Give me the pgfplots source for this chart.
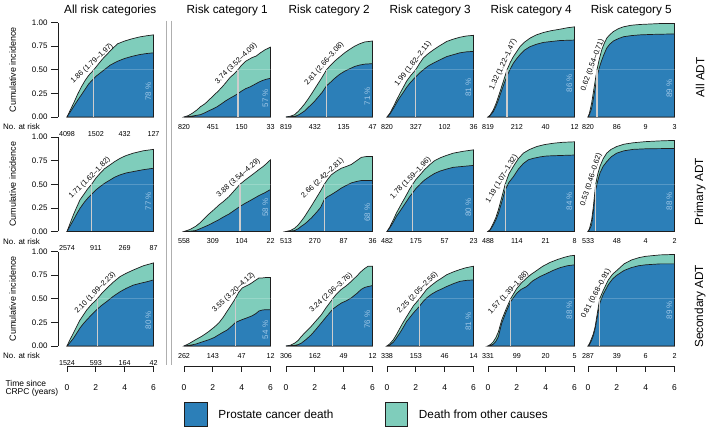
\documentclass[border=0pt]{standalone}
\usepackage{fontspec}
\setmainfont{Liberation Sans}
\usepackage{pgfplots}
\pgfplotsset{compat=1.18}
\definecolor{pcblue}{HTML}{2C7FB8}
\definecolor{ocgreen}{HTML}{7FCDBB}
\definecolor{pcttext}{RGB}{160,200,232}
\definecolor{medgray}{RGB}{205,205,205}
\definecolor{sepgray}{RGB}{175,175,175}
\definecolor{edge}{RGB}{30,30,30}
\newcommand\fs[1]{\fontsize{#1}{#1}\selectfont}

\pgfplotsset{
  panel/.style={
    scale only axis, width=86.5bp, height=94.4bp,
    xmin=0, xmax=6, ymin=0, ymax=1,
    clip=false, anchor=south west,
    axis x line*=bottom,
    x axis line style={draw=none},
    xtick={0,2,4,6},
    xtick style={draw=none},
    xticklabel style={font=\fs{7.2}, anchor=center, inner sep=0pt},
    xticklabel shift=9.7bp,
    title style={font=\fs{11.8}, anchor=base, at={(0.5,1)}, yshift=2.7bp},
  },
  othercol/.style={hide y axis},
  firstcol/.style={
    axis y line*=left,
    axis y line shift=9bp,
    ytick={0,0.25,0.5,0.75,1},
    yticklabels={0.00,0.25,0.50,0.75,1.00},
    tick align=outside,
    major tick length=7bp,
    ytick style={edge, line width=0.7bp},
    y axis line style={edge, line width=0.7bp},
    yticklabel style={font=\fs{8}},
    extra description/.code={
      \node[font=\fs{8}, anchor=east] at (-0.274,-0.1028) {No. at risk};
      \node[font=\fs{9}, rotate=90] at (-0.628,0.5) {Cumulative incidence};
    },
  },
  rowlabel/.style={
    extra description/.code={
      \node[font=\fs{11.8}, rotate=90] at (1.295,0.42) {#1};
    },
  },
  timeaxis/.style={
    scale only axis, width=86.5bp, height=10bp, anchor=south west,
    xmin=0, xmax=6, ymin=0, ymax=1, clip=false,
    axis x line*=bottom, hide y axis,
    xtick={0,2,4,6}, xticklabels={0,2,4,6},
    tick align=outside, major tick length=5bp,
    x axis line style={edge, line width=0.7bp},
    xtick style={edge, line width=0.7bp},
    xticklabel style={font=\fs{8.5}, anchor=center, inner sep=0pt},
    xticklabel shift=15.6bp,
  },
}

% #1 options, #2 at-risk, #3 total, #4 blue, #5 median, #6 CI text, #7 angle, #8 pct, #9 pct y
\newcommand\panel[9]{%
\begin{axis}[panel,#1,xticklabels={#2}]
\addplot[fill=ocgreen, draw=edge, line width=0.7bp] coordinates {#3} \closedcycle;
\addplot[fill=pcblue, draw=edge, line width=0.7bp] coordinates {#4} \closedcycle;
\addplot[white, opacity=0.2, line width=0.6bp] coordinates {(#5,0.5) (6,0.5)};
\addplot[medgray, line width=1.3bp] coordinates {(#5,0) (#5,0.5)};
\node[rotate=#7, xshift=3bp, anchor=south, inner sep=2bp, font=\fs{7.5}] at (axis cs:#5,0.5) {#6};
\node[rotate=90, font=\fs{8}, text=pcttext] at (axis cs:5.65,#9) {#8 \%};
\end{axis}}

\begin{document}
\begin{tikzpicture}
\useasboundingbox (0,0) rectangle (709bp,428bp);

% ---------- Row 1: All ADT ----------
\panel{at={(67bp,311bp)}, firstcol, title={All risk categories}}{4098,1502,432,127}
{(0,0)(0.25,0.08)(0.5,0.16)(0.75,0.245)(1,0.32)(1.25,0.385)(1.5,0.44)(1.86,0.5)(2.25,0.575)(2.5,0.62)(3,0.7)(3.5,0.775)(4,0.805)(4.5,0.828)(5,0.847)(5.5,0.86)(6,0.87)}
{(0,0)(0.25,0.06)(0.5,0.12)(0.75,0.18)(1,0.235)(1.5,0.35)(2,0.43)(2.5,0.49)(3,0.55)(3.5,0.59)(4,0.62)(4.5,0.642)(5,0.66)(5.5,0.672)(6,0.68)}
{1.86}{1.86 (1.79–1.97)}{43}{78}{0.27}

\panel{at={(184bp,311bp)}, othercol, title={Risk category 1}}{820,451,150,33}
{(0,0)(0.3,0.015)(0.58,0.04)(0.9,0.075)(1.15,0.11)(1.45,0.14)(1.73,0.18)(2.0,0.22)(2.31,0.265)(2.6,0.31)(2.88,0.36)(3.2,0.42)(3.5,0.46)(3.74,0.5)(4.0,0.55)(4.27,0.59)(4.5,0.61)(4.73,0.63)(5.0,0.645)(5.3,0.68)(5.6,0.71)(5.8,0.725)(6,0.74)}
{(0,0)(0.58,0.01)(1.15,0.025)(1.45,0.045)(1.73,0.067)(2.0,0.085)(2.31,0.11)(2.6,0.14)(2.88,0.17)(3.2,0.2)(3.5,0.225)(3.76,0.25)(4.0,0.275)(4.27,0.3)(4.6,0.32)(4.96,0.35)(5.2,0.37)(5.42,0.385)(5.7,0.4)(6,0.41)}
{3.74}{3.74 (3.52–4.09)}{44}{57}{0.2}

\panel{at={(286bp,311bp)}, othercol, title={Risk category 2}}{819,432,135,47}
{(0,0)(0.3,0.008)(0.6,0.025)(0.85,0.06)(1.06,0.095)(1.3,0.14)(1.53,0.19)(1.75,0.24)(2.0,0.3)(2.25,0.36)(2.5,0.42)(2.81,0.5)(3.1,0.55)(3.4,0.595)(3.75,0.64)(4.07,0.68)(4.4,0.715)(4.76,0.75)(5.1,0.775)(5.46,0.795)(5.75,0.8)(6,0.805)}
{(0,0)(0.6,0.007)(0.85,0.02)(1.06,0.04)(1.3,0.065)(1.53,0.1)(1.75,0.13)(2.0,0.17)(2.25,0.215)(2.5,0.26)(2.81,0.33)(3.1,0.37)(3.38,0.41)(3.7,0.45)(4.07,0.485)(4.4,0.51)(4.76,0.535)(5.1,0.55)(5.46,0.56)(6,0.565)}
{2.81}{2.81 (2.66–3.08)}{49}{71}{0.22}

\panel{at={(387bp,311bp)}, othercol, title={Risk category 3}}{820,327,102,36}
{(0,0)(0.2,0.04)(0.44,0.11)(0.7,0.19)(0.9,0.25)(1.15,0.32)(1.36,0.38)(1.65,0.44)(1.99,0.5)(2.25,0.565)(2.52,0.625)(2.85,0.67)(3.21,0.71)(3.6,0.75)(4.14,0.8)(4.6,0.825)(5.06,0.845)(5.5,0.858)(6,0.865)}
{(0,0)(0.2,0.03)(0.44,0.09)(0.7,0.16)(0.9,0.21)(1.15,0.265)(1.36,0.315)(1.65,0.37)(1.99,0.425)(2.25,0.465)(2.52,0.5)(2.85,0.54)(3.21,0.57)(3.6,0.6)(4.14,0.64)(4.6,0.66)(5.06,0.68)(5.5,0.69)(6,0.695)}
{1.99}{1.99 (1.82–2.11)}{52}{81}{0.31}

\panel{at={(488bp,311bp)}, othercol, title={Risk category 4}}{819,212,40,12}
{(0,0)(0.15,0.02)(0.37,0.075)(0.55,0.14)(0.72,0.215)(0.9,0.3)(1.06,0.375)(1.32,0.5)(1.55,0.58)(1.76,0.64)(2.0,0.695)(2.22,0.745)(2.55,0.795)(2.91,0.835)(3.35,0.87)(3.84,0.895)(4.4,0.915)(4.99,0.93)(5.5,0.945)(6,0.955)}
{(0,0)(0.15,0.015)(0.37,0.057)(0.55,0.115)(0.72,0.18)(0.9,0.26)(1.06,0.33)(1.32,0.435)(1.55,0.51)(1.76,0.57)(2.0,0.62)(2.22,0.66)(2.55,0.71)(2.91,0.745)(3.35,0.77)(3.84,0.79)(4.4,0.8)(4.99,0.81)(6,0.815)}
{1.32}{1.32 (1.22–1.47)}{65}{86}{0.36}

\panel{at={(588bp,311bp)}, othercol, title={Risk category 5}, rowlabel={All ADT}}{820,86,9,3}
{(0,0)(0.1,0.04)(0.25,0.145)(0.37,0.26)(0.49,0.375)(0.62,0.5)(0.78,0.61)(0.95,0.71)(1.1,0.77)(1.3,0.835)(1.5,0.87)(1.76,0.905)(2.1,0.935)(2.45,0.955)(3,0.972)(3.6,0.98)(4.3,0.985)(5,0.99)(6,0.99)}
{(0,0)(0.1,0.025)(0.25,0.09)(0.37,0.19)(0.49,0.3)(0.62,0.42)(0.78,0.52)(0.95,0.6)(1.1,0.66)(1.3,0.73)(1.5,0.77)(1.76,0.805)(2.1,0.83)(2.45,0.85)(3,0.862)(3.6,0.87)(4.5,0.875)(6,0.88)}
{0.62}{0.62 (0.54–0.71)}{70}{89}{0.30}

% ---------- Row 2: Primary ADT ----------
\panel{at={(67bp,196.5bp)}, firstcol}{2574,911,269,87}
{(0,0)(0.2,0.08)(0.44,0.175)(0.65,0.25)(0.9,0.335)(1.2,0.4)(1.45,0.455)(1.71,0.5)(2.0,0.565)(2.29,0.615)(2.6,0.665)(2.98,0.705)(3.3,0.74)(3.68,0.775)(4.1,0.805)(4.6,0.83)(5.29,0.855)(6,0.87)}
{(0,0)(0.2,0.055)(0.44,0.12)(0.65,0.18)(0.9,0.245)(1.2,0.31)(1.45,0.355)(1.71,0.395)(2.0,0.44)(2.29,0.475)(2.6,0.51)(2.98,0.545)(3.3,0.575)(3.68,0.6)(4.1,0.62)(4.6,0.635)(5.3,0.655)(6,0.67)}
{1.71}{1.71 (1.62–1.82)}{45}{77}{0.32}

\panel{at={(184bp,196.5bp)}, othercol}{558,309,104,22}
{(0,0)(0.4,0.02)(0.81,0.055)(1.1,0.09)(1.4,0.135)(1.73,0.185)(2.1,0.235)(2.42,0.28)(2.75,0.32)(3.12,0.37)(3.5,0.435)(3.88,0.5)(4.2,0.54)(4.5,0.575)(4.85,0.615)(5.19,0.655)(5.5,0.69)(5.8,0.73)(6,0.76)}
{(0,0)(0.4,0.003)(0.81,0.01)(1.2,0.035)(1.73,0.07)(2.1,0.1)(2.42,0.125)(2.75,0.155)(3.12,0.185)(3.5,0.225)(3.88,0.265)(4.2,0.295)(4.5,0.32)(4.85,0.35)(5.19,0.38)(5.6,0.41)(6,0.445)}
{3.88}{3.88 (3.54–4.29)}{41}{58}{0.25}

\panel{at={(286bp,196.5bp)}, othercol}{513,270,87,36}
{(0,0)(0.3,0.01)(0.6,0.035)(0.85,0.07)(1.06,0.11)(1.3,0.16)(1.53,0.215)(1.8,0.28)(2.1,0.355)(2.4,0.43)(2.66,0.5)(2.9,0.555)(3.14,0.6)(3.5,0.64)(3.84,0.67)(4.2,0.69)(4.53,0.71)(4.9,0.75)(5.22,0.785)(5.6,0.795)(6,0.795)}
{(0,0)(0.6,0.01)(0.85,0.03)(1.06,0.055)(1.3,0.08)(1.53,0.11)(1.8,0.15)(2.1,0.2)(2.4,0.255)(2.66,0.34)(2.9,0.37)(3.14,0.39)(3.5,0.425)(3.84,0.46)(4.2,0.49)(4.53,0.515)(4.9,0.53)(5.22,0.54)(6,0.54)}
{2.66}{2.66 (2.42–2.81)}{43}{68}{0.2}

\panel{at={(387bp,196.5bp)}, othercol}{482,175,57,23}
{(0,0)(0.2,0.05)(0.44,0.125)(0.65,0.195)(0.9,0.265)(1.1,0.32)(1.36,0.39)(1.55,0.445)(1.78,0.5)(2.0,0.55)(2.29,0.6)(2.6,0.655)(2.98,0.71)(3.3,0.75)(3.68,0.78)(4.1,0.805)(4.6,0.83)(5.3,0.85)(6,0.865)}
{(0,0)(0.2,0.04)(0.44,0.1)(0.65,0.16)(0.9,0.215)(1.1,0.26)(1.36,0.32)(1.55,0.365)(1.78,0.41)(2.0,0.455)(2.29,0.5)(2.6,0.545)(2.98,0.585)(3.3,0.615)(3.68,0.64)(4.1,0.66)(4.6,0.68)(5.3,0.69)(6,0.70)}
{1.78}{1.78 (1.59–1.96)}{46}{80}{0.25}

\panel{at={(488bp,196.5bp)}, othercol}{488,114,21,8}
{(0,0)(0.15,0.02)(0.37,0.087)(0.55,0.15)(0.72,0.23)(0.95,0.36)(1.19,0.5)(1.45,0.61)(1.76,0.69)(2.1,0.77)(2.45,0.83)(2.9,0.87)(3.38,0.9)(3.9,0.92)(4.53,0.935)(5.2,0.945)(6,0.95)}
{(0,0)(0.15,0.015)(0.37,0.07)(0.55,0.125)(0.72,0.19)(0.95,0.31)(1.19,0.44)(1.45,0.52)(1.76,0.58)(2.1,0.66)(2.45,0.72)(2.8,0.76)(3.14,0.775)(3.6,0.79)(4.07,0.8)(5,0.805)(6,0.81)}
{1.19}{1.19 (1.07–1.32)}{59}{84}{0.32}

\panel{at={(588bp,196.5bp)}, othercol, rowlabel={Primary ADT}}{533,48,4,2}
{(0,0)(0.1,0.03)(0.25,0.12)(0.37,0.26)(0.53,0.5)(0.68,0.61)(0.83,0.69)(1.05,0.77)(1.3,0.83)(1.6,0.87)(1.99,0.9)(2.5,0.925)(3.14,0.94)(4,0.952)(5,0.96)(6,0.965)}
{(0,0)(0.1,0.02)(0.25,0.07)(0.37,0.21)(0.53,0.44)(0.68,0.54)(0.83,0.62)(1.05,0.69)(1.3,0.74)(1.6,0.79)(1.99,0.83)(2.5,0.855)(3.14,0.87)(4,0.876)(6,0.88)}
{0.53}{0.53 (0.46–0.62)}{72}{88}{0.32}

% ---------- Row 3: Secondary ADT ----------
\panel{at={(67bp,82bp)}, firstcol}{1524,593,164,42}
{(0,0)(0.2,0.065)(0.44,0.135)(0.65,0.2)(0.9,0.275)(1.1,0.32)(1.36,0.38)(1.7,0.44)(2.1,0.5)(2.4,0.555)(2.75,0.61)(3.2,0.675)(3.68,0.735)(4.1,0.77)(4.6,0.805)(5.3,0.85)(6,0.88)}
{(0,0)(0.2,0.035)(0.44,0.08)(0.65,0.13)(0.9,0.19)(1.1,0.23)(1.36,0.275)(1.7,0.33)(2.1,0.39)(2.4,0.43)(2.75,0.47)(3.2,0.525)(3.68,0.575)(4.1,0.61)(4.6,0.645)(5.1,0.665)(5.53,0.68)(6,0.70)}
{2.10}{2.10 (1.99–2.23)}{46}{80}{0.275}

\panel{at={(184bp,82bp)}, othercol}{262,143,47,12}
{(0,0)(0.4,0.03)(0.81,0.067)(1.2,0.1)(1.5,0.13)(1.73,0.155)(2.1,0.2)(2.42,0.245)(2.7,0.3)(3.0,0.37)(3.3,0.44)(3.55,0.5)(3.8,0.57)(4.04,0.615)(4.3,0.635)(4.62,0.66)(4.9,0.69)(5.19,0.72)(5.4,0.72)(5.65,0.725)(6,0.725)}
{(0,0)(0.4,0.008)(0.81,0.02)(1.2,0.04)(1.73,0.067)(2.1,0.09)(2.42,0.12)(2.7,0.145)(3.0,0.17)(3.3,0.21)(3.53,0.245)(3.8,0.265)(4.04,0.28)(4.4,0.3)(4.73,0.32)(5.0,0.345)(5.19,0.37)(5.4,0.38)(5.65,0.385)(6,0.385)}
{3.55}{3.55 (3.20–4.12)}{43}{54}{0.17}

\panel{at={(286bp,82bp)}, othercol}{306,162,49,12}
{(0,0)(0.3,0.008)(0.6,0.03)(0.85,0.06)(1.06,0.1)(1.4,0.155)(1.76,0.21)(2.1,0.27)(2.45,0.33)(2.8,0.41)(3.24,0.5)(3.5,0.55)(3.84,0.6)(4.2,0.64)(4.53,0.685)(4.9,0.74)(5.22,0.79)(5.45,0.82)(5.69,0.845)(6,0.845)}
{(0,0)(0.6,0.007)(0.85,0.015)(1.06,0.03)(1.4,0.07)(1.76,0.12)(2.1,0.18)(2.45,0.245)(2.8,0.31)(3.24,0.39)(3.5,0.42)(3.84,0.455)(4.2,0.48)(4.53,0.51)(4.9,0.555)(5.22,0.6)(5.45,0.62)(5.69,0.63)(6,0.64)}
{3.24}{3.24 (2.96–3.76)}{42}{76}{0.28}

\panel{at={(387bp,82bp)}, othercol}{338,153,46,14}
{(0,0)(0.2,0.025)(0.44,0.067)(0.65,0.12)(0.9,0.19)(1.1,0.245)(1.36,0.31)(1.6,0.37)(1.83,0.425)(2.25,0.5)(2.5,0.55)(2.75,0.6)(3.1,0.645)(3.44,0.685)(3.8,0.72)(4.14,0.755)(4.6,0.785)(5.06,0.81)(5.5,0.83)(6,0.845)}
{(0,0)(0.2,0.012)(0.44,0.04)(0.65,0.085)(0.9,0.14)(1.1,0.19)(1.36,0.26)(1.6,0.305)(1.83,0.35)(2.25,0.42)(2.5,0.47)(2.75,0.51)(3.1,0.55)(3.44,0.58)(3.8,0.605)(4.14,0.63)(4.6,0.66)(5.06,0.685)(5.5,0.695)(6,0.70)}
{2.25}{2.25 (2.05–2.56)}{46}{81}{0.26}

\panel{at={(488bp,82bp)}, othercol}{331,99,20,5}
{(0,0)(0.2,0.02)(0.37,0.046)(0.55,0.09)(0.72,0.15)(0.95,0.275)(1.25,0.39)(1.57,0.5)(1.8,0.56)(2.0,0.61)(2.3,0.665)(2.68,0.72)(3.0,0.76)(3.38,0.8)(3.8,0.845)(4.3,0.885)(4.8,0.915)(5.3,0.94)(5.7,0.955)(6,0.96)}
{(0,0)(0.2,0.008)(0.37,0.02)(0.55,0.05)(0.72,0.1)(0.95,0.24)(1.25,0.36)(1.57,0.47)(1.8,0.52)(2.0,0.56)(2.3,0.6)(2.68,0.63)(3.1,0.69)(3.6,0.735)(4.1,0.77)(4.5,0.8)(5.0,0.83)(5.5,0.85)(6,0.86)}
{1.57}{1.57 (1.39–1.88)}{47}{88}{0.38}

\panel{at={(588bp,82bp)}, othercol, rowlabel={Secondary ADT}}{287,39,6,2}
{(0,0)(0.1,0.025)(0.25,0.08)(0.37,0.13)(0.49,0.2)(0.65,0.35)(0.81,0.5)(1.06,0.59)(1.41,0.7)(1.7,0.76)(2.0,0.8)(2.5,0.87)(3.0,0.91)(3.5,0.935)(4.0,0.95)(5.0,0.965)(6,0.97)}
{(0,0)(0.1,0.015)(0.25,0.06)(0.37,0.11)(0.49,0.18)(0.65,0.31)(0.81,0.45)(1.06,0.55)(1.41,0.65)(1.7,0.71)(2.0,0.75)(2.5,0.8)(3.0,0.83)(3.5,0.85)(4.0,0.86)(5.0,0.87)(6,0.87)}
{0.81}{0.81 (0.68–0.91)}{62}{89}{0.38}

% ---------- separator (drawn in the first panel's axis) ----------
\begin{axis}[panel, othercol, at={(67bp,311bp)}, xticklabels={}]
\addplot[sepgray, line width=1.1bp] coordinates {(6.916,1.02) (6.916,-2.627)};
\addplot[sepgray, line width=1.1bp] coordinates {(7.263,1.02) (7.263,-2.627)};
\end{axis}

% ---------- time axes ----------
\begin{axis}[timeaxis, at={(67bp,61.3bp)},
  extra description/.code={\node[font=\fs{8.5}, anchor=west, align=left] at (-0.7514,-2.145) {Time since\\CRPC (years)};}]
\end{axis}
\begin{axis}[timeaxis, at={(184bp,61.3bp)},
  legend columns=2, legend cell align=left,
  legend style={draw=none, fill=none, at={(0,-4.8)}, anchor=west, inner sep=0pt, outer sep=0pt,
    font=\fs{11.8},
    /tikz/every odd column/.append style={column sep=9bp},
    /tikz/every even column/.append style={column sep=49bp}}]
\addlegendimage{legend image code/.code={\draw[fill=pcblue, draw=edge, line width=0.8bp] (0bp,-11.8bp) rectangle (22.7bp,11.8bp);}}
\addlegendentry{Prostate cancer death}
\addlegendimage{legend image code/.code={\draw[fill=ocgreen, draw=edge, line width=0.8bp] (0bp,-11.8bp) rectangle (22.7bp,11.8bp);}}
\addlegendentry{Death from other causes}
\end{axis}
\begin{axis}[timeaxis, at={(286bp,61.3bp)}]\end{axis}
\begin{axis}[timeaxis, at={(387bp,61.3bp)}]\end{axis}
\begin{axis}[timeaxis, at={(488bp,61.3bp)}]\end{axis}
\begin{axis}[timeaxis, at={(588bp,61.3bp)}]\end{axis}
\end{tikzpicture}
\end{document}
